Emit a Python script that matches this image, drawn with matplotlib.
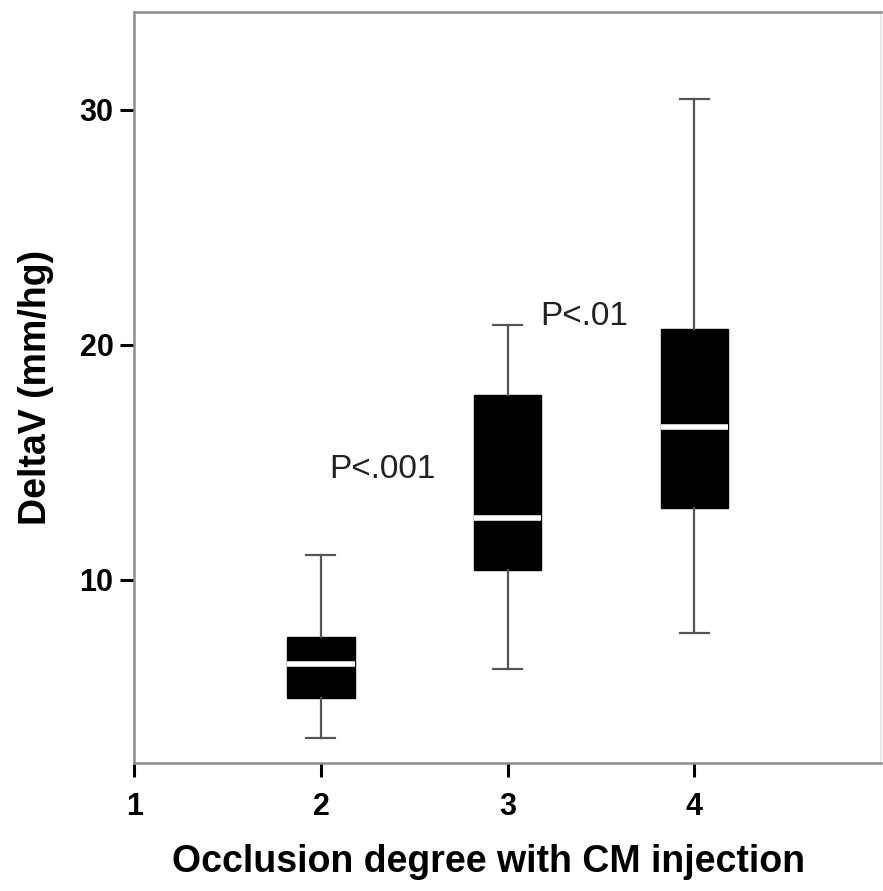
import matplotlib.pyplot as plt

# box statistics (DeltaV, mm/hg)
groups = [2, 3, 4]
whisker_low = [3.28, 6.21, 7.74]
q1 = [4.98, 10.43, 13.06]
medians = [6.43, 12.64, 16.51]
q3 = [7.57, 17.87, 20.68]
whisker_high = [11.06, 20.85, 30.47]

x_ticks = [1, 2, 3, 4]
y_ticks = [10, 20, 30]

# significance labels
p_labels = ["P<.001", "P<.01"]
p_x = [2.045, 3.176]
p_y = [14.34, 20.85]

plt.rcParams["font.family"] = ["Liberation Sans", "DejaVu Sans"]

stats = []
for lo, a, m, b, hi in zip(whisker_low, q1, medians, q3, whisker_high):
    stats.append(dict(whislo=lo, q1=a, med=m, q3=b, whishi=hi, fliers=[]))

fig = plt.figure(figsize=(8.83, 8.91), dpi=100)
ax = fig.add_axes([0.152, 0.1437, 0.846, 0.843])

ax.bxp(stats, positions=groups, widths=0.36, capwidths=0.155,
       patch_artist=True, showfliers=False,
       boxprops=dict(facecolor="black", edgecolor="black", linewidth=1),
       medianprops=dict(color="white", linewidth=4, solid_capstyle="butt"),
       whiskerprops=dict(color="#555555", linewidth=1.6),
       capprops=dict(color="#555555", linewidth=1.6))

for label, x, y in zip(p_labels, p_x, p_y):
    ax.text(x, y, label, fontsize=24, color="#222222", va="baseline", ha="left")

ax.set_xlim(1, 5)
ax.set_ylim(2.21, 34.17)
ax.set_xticks(x_ticks)
ax.set_yticks(y_ticks)
ax.set_xticklabels([str(t) for t in x_ticks], fontweight="bold")
ax.set_yticklabels([str(t) for t in y_ticks], fontweight="bold")
ax.tick_params(axis="both", labelsize=22, length=10, width=2.2, color="black")
ax.tick_params(axis="x", pad=11)
ax.tick_params(axis="y", pad=5)

for side in ["left", "bottom", "top"]:
    ax.spines[side].set_color("#8c8c8c")
    ax.spines[side].set_linewidth(1.8)
ax.spines["right"].set_color("#e4e4e4")
ax.spines["right"].set_linewidth(1.2)

ax.set_xlabel("Occlusion degree with CM injection", fontsize=27, fontweight="bold")
ax.xaxis.set_label_coords(0.474, -0.108, transform=ax.transAxes)
ax.xaxis.label.set_va("top")
ax.set_ylabel("DeltaV (mm/hg)", fontsize=27, fontweight="bold", labelpad=18)

fig.savefig("out.png", dpi=100, facecolor="white")
